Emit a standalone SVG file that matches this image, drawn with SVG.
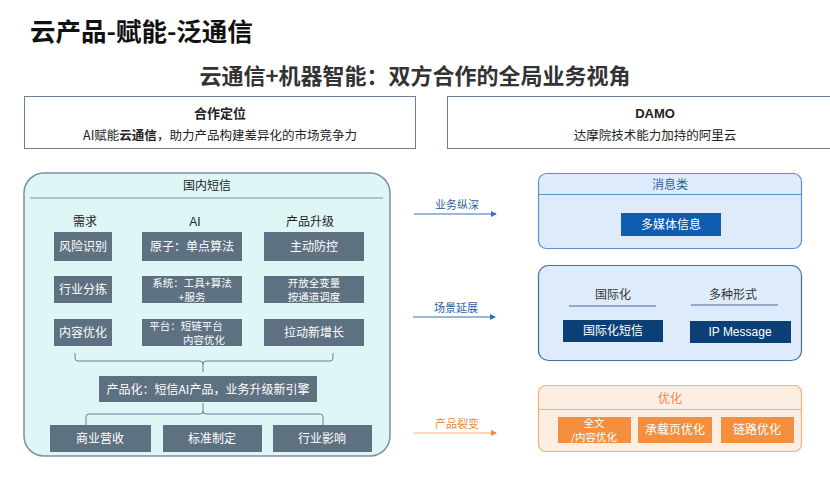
<svg xmlns="http://www.w3.org/2000/svg" width="830" height="482" viewBox="0 0 830 482">
<style>
text{font-family:"Noto Sans CJK SC","Noto Sans",sans-serif;}
.t{font-size:13px;fill:#222;text-anchor:middle;}
.g rect{fill:#5e7181;}
.g text{font-size:12px;fill:#fff;text-anchor:middle;}
.g text.s{font-size:10.5px;}
.h{font-size:12px;fill:#222;text-anchor:middle;}
.bl text{font-size:12px;fill:#fff;text-anchor:middle;}
.bl text.s{font-size:10.5px;}
.lbl{font-size:11px;text-anchor:middle;}
</style>
<defs>
<marker id="ab" markerWidth="6" markerHeight="6" refX="5" refY="3" orient="auto" markerUnits="userSpaceOnUse"><path d="M0,0 L6,3 L0,6 z" fill="#3a6fb5"/></marker>
<marker id="ao" markerWidth="6" markerHeight="6" refX="5" refY="3" orient="auto" markerUnits="userSpaceOnUse"><path d="M0,0 L6,3 L0,6 z" fill="#f08a3c"/></marker>
</defs>
<rect width="830" height="482" fill="#fff"/>
<text x="30" y="41" style="font-size:25.5px;font-weight:bold;fill:#111">云产品-赋能-泛通信</text>
<text x="415" y="84" style="font-size:22px;font-weight:bold;fill:#333;text-anchor:middle">云通信+机器智能：双方合作的全局业务视角</text>

<g id="coop">
<rect x="24.5" y="96.5" width="391" height="52" fill="#fff" stroke="#6b7d90"/>
<text x="220" y="118" class="t" style="font-weight:bold">合作定位</text>
<text x="220" y="140" class="t" style="font-size:12.5px">AI赋能<tspan font-weight="bold">云通信</tspan>，助力产品构建差异化的市场竞争力</text>
</g>
<g id="damo">
<rect x="447.5" y="96.5" width="390" height="52" fill="#fff" stroke="#6b7d90"/>
<text x="655" y="118" class="t" style="font-family:'Liberation Sans',sans-serif;font-weight:bold">DAMO</text>
<text x="655" y="140" class="t" style="font-size:12.5px">达摩院技术能力加持的阿里云</text>
</g>

<g id="domestic">
<rect x="24" y="173" width="366" height="283" rx="20" fill="#dff6f7" stroke="#7c8fa3" stroke-width="1.5"/>
<text x="207" y="190" class="h">国内短信</text>
<line x1="30" y1="198" x2="383" y2="198" stroke="#7c8fa3" stroke-width="1.2"/>
<text x="85" y="226" class="h">需求</text>
<text x="195" y="226" class="h" style="font-family:'Liberation Sans',sans-serif">AI</text>
<text x="310" y="226" class="h">产品升级</text>
</g>
<g class="g">
<g id="n1"><rect x="54" y="232" width="58" height="29"/><text x="83" y="251">风险识别</text></g>
<g id="n2"><rect x="142" y="232" width="100" height="29"/><text x="192" y="251">原子：单点算法</text></g>
<g id="n3"><rect x="264" y="232" width="100" height="29"/><text x="314" y="251">主动防控</text></g>
<g id="n4"><rect x="54" y="276" width="58" height="27"/><text x="83" y="294">行业分拣</text></g>
<g id="n5"><rect x="142" y="276" width="100" height="27"/><text class="s" x="192" y="287">系统：工具+算法</text><text class="s" x="192" y="301">+服务</text></g>
<g id="n6"><rect x="264" y="276" width="100" height="27"/><text class="s" x="314" y="287">开放全变量</text><text class="s" x="314" y="301">按通道调度</text></g>
<g id="n7"><rect x="54" y="319" width="58" height="27"/><text x="83" y="337">内容优化</text></g>
<g id="n8"><rect x="142" y="319" width="100" height="27"/><text class="s" x="186" y="330">平台：短链平台</text><text class="s" x="204" y="344">内容优化</text></g>
<g id="n9"><rect x="264" y="319" width="100" height="27"/><text x="314" y="337">拉动新增长</text></g>
<g id="n10"><rect x="99" y="376" width="218" height="26"/><text x="208" y="394">产品化：短信AI产品，业务升级新引擎</text></g>
<g id="n11"><rect x="50" y="425" width="101" height="27"/><text x="100" y="443">商业营收</text></g>
<g id="n12"><rect x="163" y="425" width="99" height="27"/><text x="212" y="443">标准制定</text></g>
<g id="n13"><rect x="273" y="425" width="99" height="27"/><text x="322" y="443">行业影响</text></g>
</g>

<g id="connectors" fill="none">
<path d="M75,353 v5 q0,3 3,3 h122 q3,0 3,3 v8 M333,353 v5 q0,3 -3,3 h-124 q-3,0 -3,3" stroke="#6b7d90" stroke-width="1"/>
<path d="M203,403 v8 q0,3 -3,3 h-111 q-3,0 -3,3 v8 M203,411 q0,3 3,3 h114 q3,0 3,3 v8" stroke="#6b7d90" stroke-width="1"/>
<line x1="414" y1="214" x2="496" y2="214" stroke="#3a6fb5" stroke-width="1" marker-end="url(#ab)"/>
<line x1="413" y1="317" x2="495" y2="317" stroke="#3a6fb5" stroke-width="1" marker-end="url(#ab)"/>
<line x1="414" y1="433" x2="496" y2="433" stroke="#f4b07a" stroke-width="1" marker-end="url(#ao)"/>
</g>
<text x="457" y="209" class="lbl" style="fill:#2e5f9e">业务纵深</text>
<text x="456" y="312" class="lbl" style="fill:#2e5f9e">场景延展</text>
<text x="457" y="428" class="lbl" style="fill:#f08a3c">产品裂变</text>

<g id="msg">
<rect x="538.5" y="173.5" width="263" height="75" rx="8" fill="#deebfb" stroke="#5b8fd0" stroke-width="1.2"/>
<line x1="538.5" y1="194.5" x2="801.5" y2="194.5" stroke="#5b8fd0" stroke-width="1.2"/>
<text x="670" y="189" class="h" style="fill:#2e5f9e">消息类</text>
</g>
<g class="bl">
<g id="mm"><rect x="621" y="213" width="100" height="23" fill="#0f5cb0"/><text x="671" y="229">多媒体信息</text></g>
</g>
<g id="scene">
<rect x="538.5" y="265.5" width="263" height="95" rx="10" fill="#deebfb" stroke="#4a6f99" stroke-width="1.2"/>
<text x="613" y="299" class="h" style="fill:#333">国际化</text>
<line x1="569" y1="306" x2="656" y2="306" stroke="#4a6f99" stroke-width="1.2"/>
<text x="733" y="299" class="h" style="fill:#333">多种形式</text>
<line x1="691" y1="305" x2="778" y2="305" stroke="#4a6f99" stroke-width="1.2"/>
</g>
<g class="bl">
<g id="intl"><rect x="563" y="320" width="100" height="22" fill="#0d3f77"/><text x="613" y="335">国际化短信</text></g>
<g id="ipm"><rect x="690" y="321" width="101" height="22" fill="#0d3f77"/><text x="740" y="336" style="font-family:'Liberation Sans',sans-serif">IP  Message</text></g>
</g>
<g id="opt">
<rect x="538.5" y="385.5" width="263" height="66" rx="7" fill="#fdeee2" stroke="#f3b27a" stroke-width="1.2"/>
<line x1="538.5" y1="409.5" x2="801.5" y2="409.5" stroke="#f3b27a" stroke-width="1.2"/>
<text x="670" y="403" class="h" style="fill:#f08a3c">优化</text>
</g>
<g class="bl">
<g id="o1"><rect x="558" y="417" width="73" height="26" fill="#f38f3f"/><text class="s" x="594" y="427">全文</text><text class="s" x="594" y="441">/内容优化</text></g>
<g id="o2"><rect x="638" y="417" width="74" height="26" fill="#f38f3f"/><text x="675" y="434">承载页优化</text></g>
<g id="o3"><rect x="721" y="417" width="73" height="26" fill="#f38f3f"/><text x="757" y="434">链路优化</text></g>
</g>
</svg>
